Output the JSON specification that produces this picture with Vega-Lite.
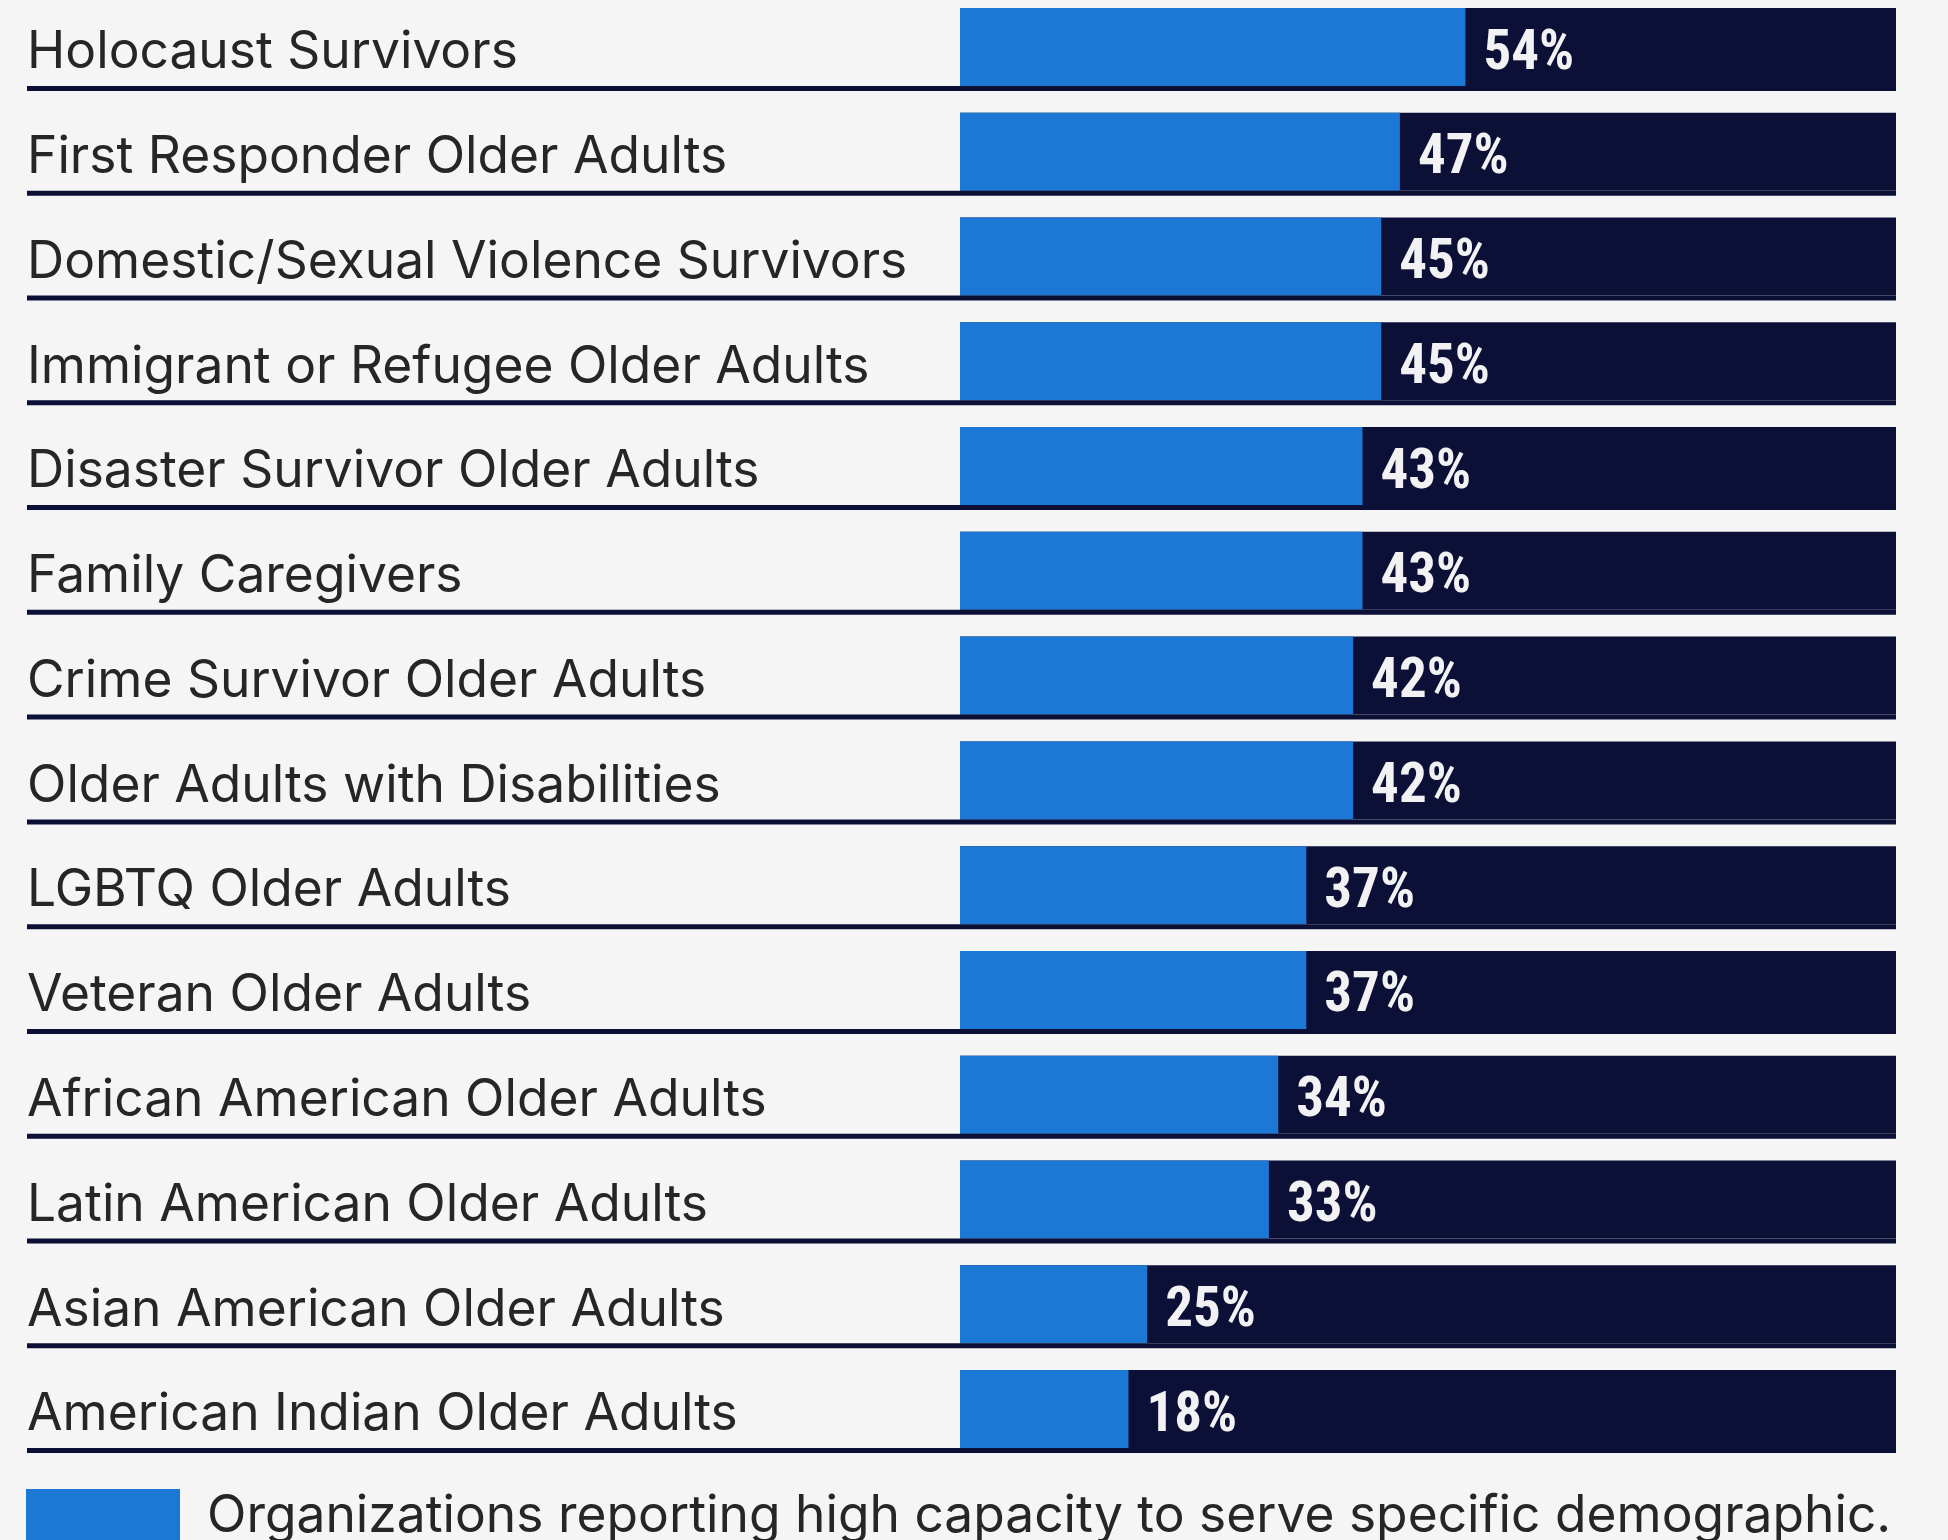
{
  "$schema": "https://vega.github.io/schema/vega-lite/v6.json",
  "width": 1869,
  "height": 1440,
  "autosize": {"type": "none"},
  "padding": {"left": 27, "top": 8, "right": 52, "bottom": 92},
  "background": "#f5f5f5",
  "config": {"view": {"stroke": null}},
  "data": {
    "values": [
      {"group": "Holocaust Survivors", "label": "54%", "bar": 54},
      {"group": "First Responder Older Adults", "label": "47%", "bar": 47},
      {"group": "Domestic/Sexual Violence Survivors", "label": "45%", "bar": 45},
      {"group": "Immigrant or Refugee Older Adults", "label": "45%", "bar": 45},
      {"group": "Disaster Survivor Older Adults", "label": "43%", "bar": 43},
      {"group": "Family Caregivers", "label": "43%", "bar": 43},
      {"group": "Crime Survivor Older Adults", "label": "42%", "bar": 42},
      {"group": "Older Adults with Disabilities", "label": "42%", "bar": 42},
      {"group": "LGBTQ Older Adults", "label": "37%", "bar": 37},
      {"group": "Veteran Older Adults", "label": "37%", "bar": 37},
      {"group": "African American Older Adults", "label": "34%", "bar": 34},
      {"group": "Latin American Older Adults", "label": "33%", "bar": 33},
      {"group": "Asian American Older Adults", "label": "25%", "bar": 20},
      {"group": "American Indian Older Adults", "label": "18%", "bar": 18}
    ]
  },
  "layer": [
    {
      "mark": {"type": "bar", "color": "#0d1036"},
      "encoding": {
        "y": {"field": "group", "type": "nominal", "sort": null, "scale": {"paddingInner": 0.2555, "paddingOuter": 0}, "axis": null},
        "x": {"datum": 0, "type": "quantitative", "scale": {"domain": [-99.68, 100], "nice": false, "zero": false}, "axis": null},
        "x2": {"datum": 100}
      }
    },
    {
      "mark": {"type": "bar"},
      "encoding": {
        "y": {"field": "group", "type": "nominal", "sort": null},
        "x": {"field": "bar", "type": "quantitative"},
        "x2": {"datum": 0},
        "color": {
          "datum": "Organizations reporting high capacity to serve specific demographic.",
          "type": "nominal",
          "scale": {"range": ["#1b78d4"]},
          "legend": {
            "orient": "none",
            "legendX": -1,
            "legendY": 1447,
            "title": null,
            "symbolType": "M-1,-0.56H1V1H-1Z",
            "symbolSize": 23716,
            "symbolFillColor": "#1b78d4",
            "symbolStrokeWidth": 0,
            "symbolOpacity": 1,
            "labelFont": "Inter",
            "labelFontSize": 51.5,
            "labelColor": "#262626",
            "labelOffset": 27,
            "labelLimit": 0,
            "labelBaseline": "alphabetic",
            "padding": 0
          }
        }
      }
    },
    {
      "mark": {"type": "rule", "color": "#0d1036", "strokeWidth": 5, "yOffset": 2.5},
      "encoding": {
        "y": {"field": "group", "type": "nominal", "sort": null, "bandPosition": 1},
        "x": {"datum": -99.68, "type": "quantitative"},
        "x2": {"datum": 100}
      }
    },
    {
      "mark": {"type": "text", "align": "left", "baseline": "alphabetic", "dy": -17.7, "font": "Inter", "fontSize": 51.5, "color": "#262626"},
      "encoding": {
        "y": {"field": "group", "type": "nominal", "sort": null, "bandPosition": 1},
        "x": {"datum": -99.68, "type": "quantitative"},
        "text": {"field": "group"}
      }
    },
    {
      "mark": {"type": "text", "align": "left", "baseline": "alphabetic", "dx": 18, "dy": -17.5, "font": "Liberation Sans Narrow, Roboto Condensed, DejaVu Sans Condensed, sans-serif", "fontWeight": "bold", "fontSize": 55, "color": "#f2f2f4"},
      "encoding": {
        "y": {"field": "group", "type": "nominal", "sort": null, "bandPosition": 1},
        "x": {"field": "bar", "type": "quantitative"},
        "text": {"field": "label"}
      }
    }
  ]
}
